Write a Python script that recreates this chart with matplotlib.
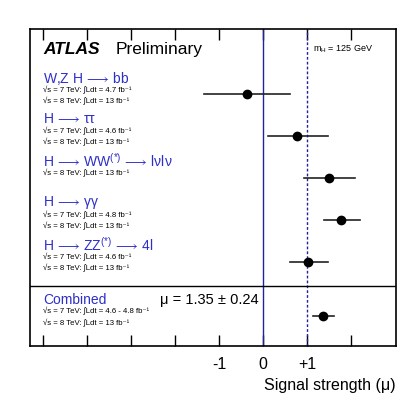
import matplotlib
matplotlib.use('Agg')
import matplotlib.pyplot as plt

plt.rcParams['font.family'] = ['Liberation Sans', 'DejaVu Sans']
plt.rcParams['mathtext.fontset'] = 'dejavusans'
plt.rcParams['mathtext.default'] = 'regular'

ARR = r'$\!\longrightarrow\!$'

# Channels and measured signal strengths
channels = ['W,Z H ' + ARR + ' bb', 'H ' + ARR + ' ττ',
            'H ' + ARR + ' WW$^{(*)}$ ' + ARR + ' lνlν',
            'H ' + ARR + ' γγ', 'H ' + ARR + ' ZZ$^{(*)}$ ' + ARR + ' 4l']
lumi_lines = [
    ['√s = 7 TeV: ∫Ldt = 4.7 fb⁻¹', '√s = 8 TeV: ∫Ldt = 13 fb⁻¹'],
    ['√s = 7 TeV: ∫Ldt = 4.6 fb⁻¹', '√s = 8 TeV: ∫Ldt = 13 fb⁻¹'],
    ['√s = 8 TeV: ∫Ldt = 13 fb⁻¹'],
    ['√s = 7 TeV: ∫Ldt = 4.8 fb⁻¹', '√s = 8 TeV: ∫Ldt = 13 fb⁻¹'],
    ['√s = 7 TeV: ∫Ldt = 4.6 fb⁻¹', '√s = 8 TeV: ∫Ldt = 13 fb⁻¹'],
]
mu = [-0.37, 0.77, 1.49, 1.78, 1.01]
mu_lo = [-1.34, 0.12, 0.94, 1.39, 0.61]
mu_hi = [0.61, 1.48, 2.09, 2.21, 1.48]
row_y = [1.56, 2.56, 3.54, 4.55, 5.55]
label_y = [1.17, 2.14, 3.14, 4.14, 5.14]

comb_mu, comb_lo, comb_hi = 1.36, 1.13, 1.62
comb_y = 6.83
comb_lumi = ['√s = 7 TeV: ∫Ldt = 4.6 - 4.8 fb⁻¹', '√s = 8 TeV: ∫Ldt = 13 fb⁻¹']

tick_pos = [-5, -4, -3, -2, -1, 0, 1, 2]
tick_lab = ['', '', '', '', '-1', '0', '+1', '']

blue = '#2e2ec8'

fig = plt.figure(figsize=(4.14, 4.04), dpi=100)
ax = fig.add_axes([0.0725, 0.1436, 0.884, 0.7847])
ax.set_xlim(-5.3, 3.02)
ax.set_ylim(7.55, 0)

# reference lines
ax.axvline(0, color='#22229a', lw=1.0)
ax.axvline(1, color='#22229a', lw=1.0, ls=(0, (2, 1.5)))
ax.axhline(6.12, color='black', lw=1.0)

# channel measurements
for i in range(len(mu)):
    ax.plot([mu_lo[i], mu_hi[i]], [row_y[i], row_y[i]], color='#222222', lw=1.2)
    ax.plot(mu[i], row_y[i], 'o', color='black', ms=6)
    ax.text(-5.0, label_y[i], channels[i], color=blue, fontsize=10, va='center')
    for j, s in enumerate(lumi_lines[i]):
        ax.text(-5.0, label_y[i] + 0.29 + 0.26 * j, s, fontsize=5.6, va='center')

ax.plot([comb_lo, comb_hi], [comb_y, comb_y], color='#222222', lw=1.2)
ax.plot(comb_mu, comb_y, 'o', color='black', ms=6)
ax.text(-5.0, 6.45, 'Combined', color=blue, fontsize=10, va='center')
for j, s in enumerate(comb_lumi):
    ax.text(-5.0, 6.73 + 0.27 * j, s, fontsize=5.6, va='center')
ax.text(-2.35, 6.45, 'μ = 1.35 ± 0.24', fontsize=10.5, va='center')

ax.text(-5.0, 0.5, 'ATLAS', fontsize=12.5, fontweight='bold', fontstyle='italic', va='center')
ax.text(-3.35, 0.5, 'Preliminary', fontsize=12.5, va='center')
ax.text(1.13, 0.48, r'm$_{H}$ = 125 GeV', fontsize=6.5, va='center')

ax.set_xticks(tick_pos)
ax.set_xticklabels(tick_lab, fontsize=11.5)
ax.set_yticks([])
ax.tick_params(axis='x', direction='in', length=8, width=1, top=True, pad=8)
for sp in ax.spines.values():
    sp.set_linewidth(1.2)

ax.set_xlabel('Signal strength (μ)', fontsize=11.5, loc='right', labelpad=4)

fig.savefig('out.png', dpi=100)
